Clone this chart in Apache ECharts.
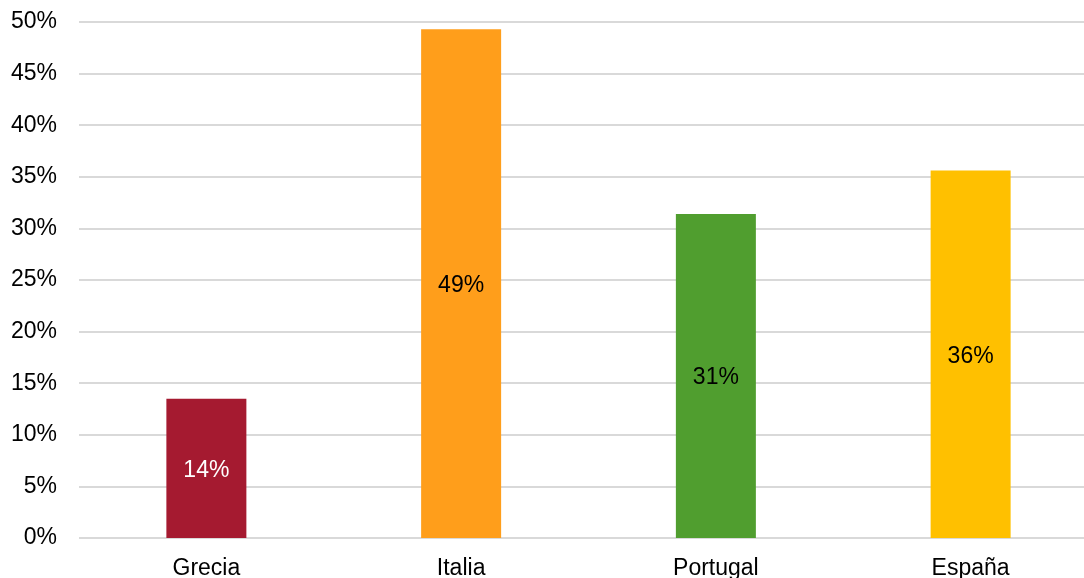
<!DOCTYPE html>
<html><head><meta charset="utf-8">
<script src="https://cdn.jsdelivr.net/npm/echarts@6/dist/echarts.min.js"></script>
<style>html,body{margin:0;padding:0;background:#fff;overflow:hidden;width:1084px;height:578px}#c{width:1098px;height:578px}</style>
</head><body><div id="c"></div>
<script>
const categories = ['Grecia', 'Italia', 'Portugal', 'España'];
const values = [13.5, 49.3, 31.4, 35.6];
const labels = ['14%', '49%', '31%', '36%'];
const colors = ['#A51A30', '#FF9E1B', '#509E2F', '#FFC000'];
const labelColors = ['#ffffff', '#000000', '#000000', '#000000'];

const chart = echarts.init(document.getElementById('c'));
chart.setOption({
  animation: false,
  textStyle: { fontFamily: 'Liberation Sans, Arial, sans-serif' },
  grid: { left: 79, right: 0, top: 22, bottom: 40, containLabel: false, outerBoundsMode: 'none' },
  xAxis: {
    type: 'category', data: categories,
    axisLine: { show: false }, axisTick: { show: false },
    axisLabel: { color: '#000', fontSize: 23, margin: 19 }
  },
  yAxis: {
    type: 'value', min: 0, max: 50, interval: 5,
    axisLine: { show: false }, axisTick: { show: false },
    axisLabel: { color: '#000', fontSize: 23, margin: 22, formatter: v => v + '%' },
    splitLine: { lineStyle: { color: '#d9d9d9', width: 2 } }
  },
  series: [{
    type: 'bar', barWidth: 80,
    data: values.map((v, i) => ({
      value: v,
      itemStyle: { color: colors[i] },
      label: { show: true, position: 'inside', offset: [0, 2], formatter: labels[i], color: labelColors[i], fontSize: 23 }
    }))
  }]
});
</script></body></html>
